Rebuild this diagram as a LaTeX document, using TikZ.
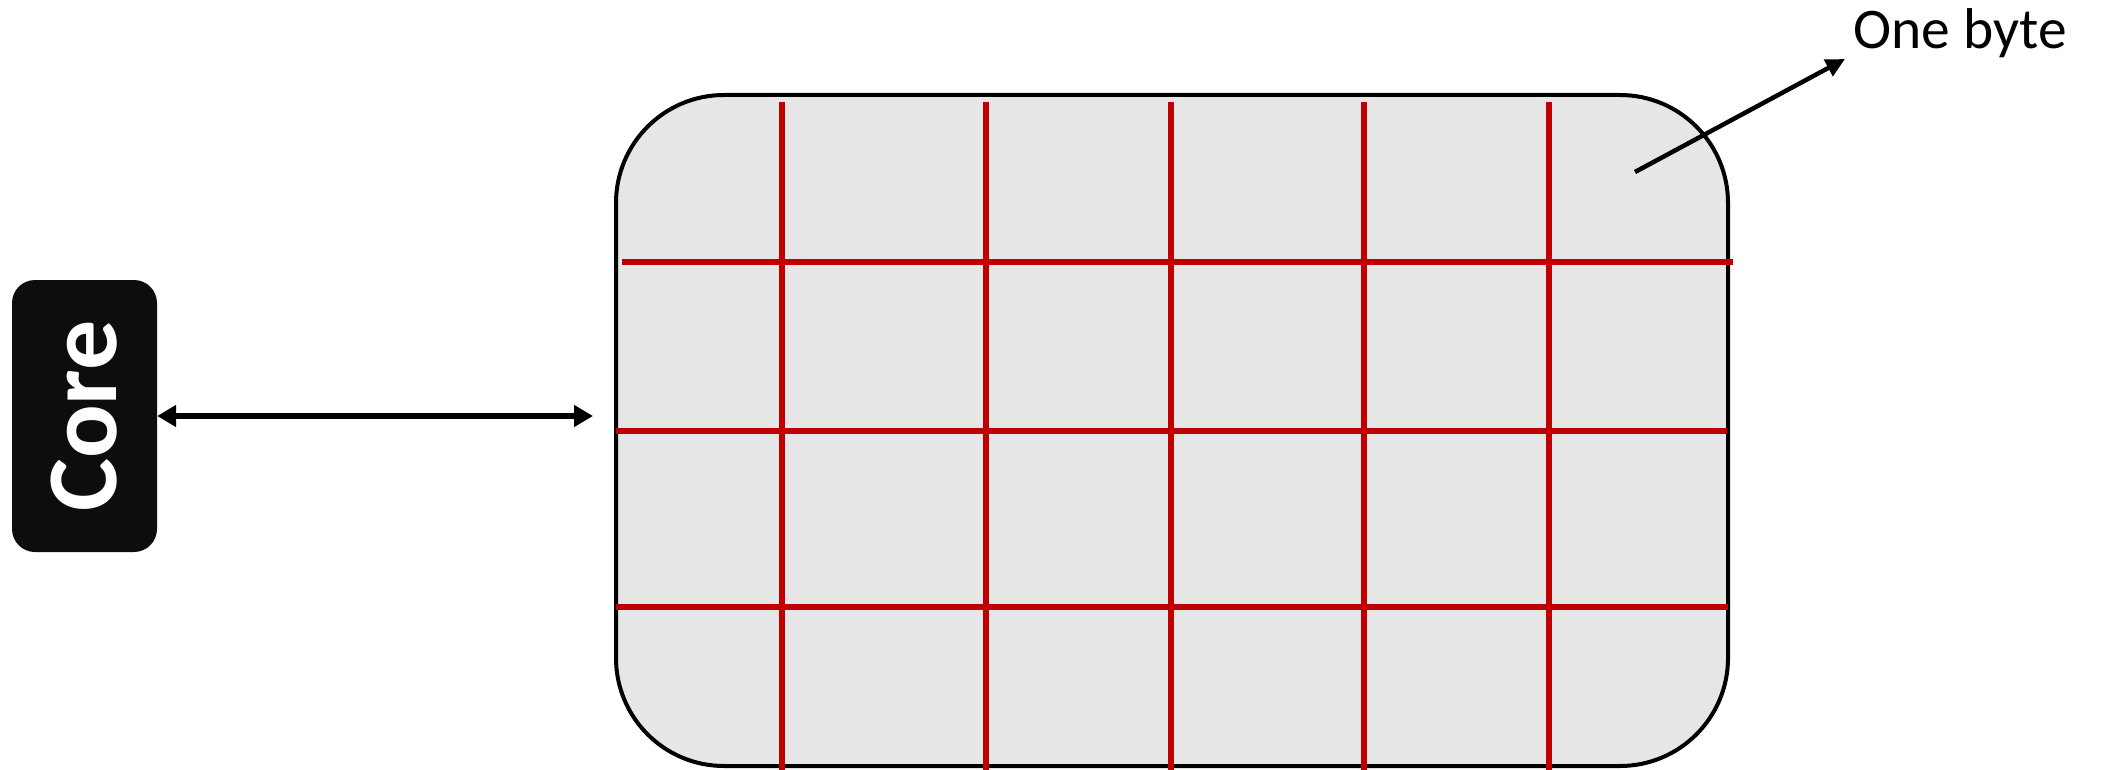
\documentclass[tikz,border=0pt]{standalone}
\usepackage{fontspec}
\setmainfont{Carlito}
\usetikzlibrary{arrows.meta}
\definecolor{gridred}{HTML}{C00000}
\definecolor{memgrey}{HTML}{E6E6E6}
\definecolor{coreblack}{HTML}{0D0D0D}
\tikzset{
  corebox/.style={draw=none, fill=coreblack, rounded corners=23pt, minimum width=272pt, minimum height=145pt, rotate=90, inner sep=0pt, text=white, font=\bfseries\fontsize{100}{110}\selectfont},
  membox/.style={draw=black, line width=4pt, fill=memgrey, rounded corners=108pt, minimum width=1112pt, minimum height=671pt, inner sep=0pt},
  redline/.style={draw=gridred, line width=6pt},
  busarrow/.style={line width=5.5pt, {Triangle[length=19pt,width=21pt]}-{Triangle[length=19pt,width=21pt]}},
  ptrarrow/.style={line width=4.5pt, -{Triangle[length=19pt,width=18pt]}},
  lbl/.style={inner sep=0pt, font=\fontsize{57.5}{69}\selectfont}
}
\begin{document}
\begin{tikzpicture}[x=1pt,y=-1pt]
\useasboundingbox (0,0) rectangle (2118,770);
\node[corebox] (core) at (84.5,416) {Core};
\node[membox] (mem) at (1172,430.5) {};
% grid of bytes
\draw[redline] (622,262) -- (1733,262);
\draw[redline] (616,431) -- (1727,431);
\draw[redline] (616,607) -- (1728,607);
\foreach \gx in {782,986,1171,1364,1549}
  \draw[redline] (\gx,102) -- (\gx,770);
% bus between core and memory
\draw[busarrow, shorten >=21pt] (core.south) -- (core.south -| mem.west);
% label
\node[lbl, anchor=base west] (onebyte) at (1853,49) {One byte};
\coordinate (bytept) at (1635,172);
\coordinate (bytetip) at (1845,59);
\draw[ptrarrow] (bytept) -- (bytetip);
\end{tikzpicture}
\end{document}
